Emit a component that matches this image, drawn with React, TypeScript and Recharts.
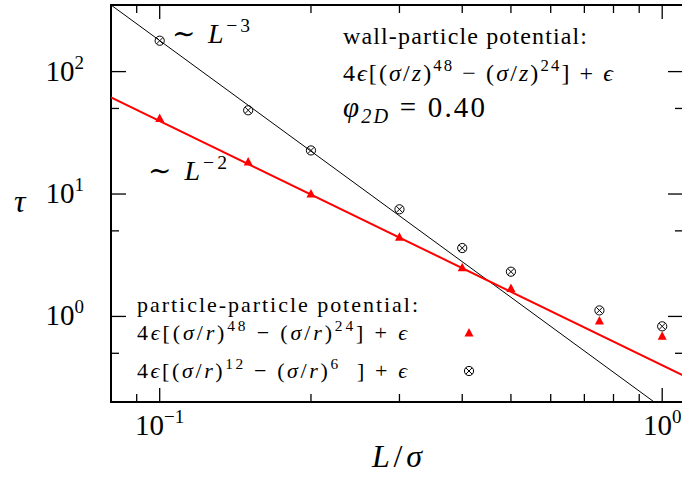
import { ScatterChart, Scatter, XAxis, YAxis, ReferenceArea } from "recharts";

// plot frame (px) inside the 682x485 picture
const CHART_W = 684;
const CHART_H = 485;
const TOP = 5;
const RIGHT = 683;

const FONT = "'Liberation Serif', 'DejaVu Serif', serif";

// measured relaxation time tau vs. L/sigma
const sizes = [0.1, 0.15, 0.2, 0.3, 0.4, 0.5, 0.75, 1.0];
const tauLJ48 = [41.4, 18.3, 10.0, 4.43, 2.5, 1.69, 0.916, 0.69];
const tauLJ12 = [178.8, 48.3, 22.7, 7.5, 3.62, 2.32, 1.12, 0.83];

// power-law guides ~L^-3 and ~L^-2 (end points)
const fit3x = [0.08, 0.964];
const fit3y = [350, 0.2];
const fit2x = [0.08, 1.1];
const fit2y = [61.5, 0.33];

const xMajor = [0.1, 1];
const xMinor = [0.09, 0.2, 0.3, 0.4, 0.5, 0.6, 0.7, 0.8, 0.9];
const yMajor = [1, 10, 100];
const yMinor = [0.5, 5, 50];
const xExp: Record<number, string> = { 0.1: "\u22121", 1: "0" };
const yExp: Record<number, string> = { 1: "0", 10: "1", 100: "2" };

const zip = (xs: number[], ys: number[]) => xs.map((x, i) => ({ x, y: ys[i] }));

function XTick(props: any) {
  const { x, y, payload } = props;
  const v = payload.value;
  const major = xMajor.includes(v);
  const len = major ? 14 : 8;
  return (
    <g>
      <line x1={x} x2={x} y1={y} y2={y - len} stroke="#000" strokeWidth={1.3} />
      <line x1={x} x2={x} y1={TOP} y2={TOP + len} stroke="#000" strokeWidth={1.3} />
      {major && (
        <text x={x} y={y + 33} textAnchor="middle" fontFamily={FONT} fontSize={29} fill="#000">
          10<tspan dy={-12} fontSize={19}>{xExp[v]}</tspan>
        </text>
      )}
    </g>
  );
}

function YTick(props: any) {
  const { x, y, payload } = props;
  const v = payload.value;
  const major = yMajor.includes(v);
  const len = major ? 15 : 8;
  return (
    <g>
      <line x1={x} x2={x + len} y1={y} y2={y} stroke="#000" strokeWidth={1.3} />
      <line x1={RIGHT - len} x2={RIGHT} y1={y} y2={y} stroke="#000" strokeWidth={1.3} />
      {major && (
        <text x={x - 27} y={y + 9} textAnchor="end" fontFamily={FONT} fontSize={29} fill="#000">
          10<tspan dy={-12} fontSize={19}>{yExp[v]}</tspan>
        </text>
      )}
    </g>
  );
}

const Triangle = (p: any) => (
  <path d={`M${p.cx},${p.cy - 5} L${p.cx + 4.5},${p.cy + 3.5} L${p.cx - 4.5},${p.cy + 3.5} Z`} fill="#ff0000" />
);

const OTimes = (p: any) => {
  const { cx, cy } = p;
  const d = 3.2;
  return (
    <g stroke="#000" strokeWidth={1} fill="none">
      <circle cx={cx} cy={cy} r={4.6} />
      <line x1={cx - d} y1={cy - d} x2={cx + d} y2={cy + d} />
      <line x1={cx - d} y1={cy + d} x2={cx + d} y2={cy - d} />
    </g>
  );
};

const NoDot = () => <g />;

// math-ish text: segments of [text, style] where style: i italic, ^ superscript, _ subscript
type Seg = [string, string?];
function MathText({ x, y, size, segs, w }: { x: number; y: number; size: number; segs: Seg[]; w?: number }) {
  let level = 0;
  const out = segs.map(([t, s = ""], k) => {
    const target = s.includes("^") ? -0.4 * size : s.includes("_") ? 0.22 * size : 0;
    const dy = target - level;
    level = target;
    return (
      <tspan
        key={k}
        dy={dy}
        fontStyle={s.includes("i") ? "italic" : "normal"}
        fontSize={s.includes("^") || s.includes("_") ? size * 0.7 : size}
      >
        {t}
      </tspan>
    );
  });
  return (
    <text
      x={x}
      y={y}
      fontFamily={FONT}
      fontSize={size}
      fill="#000"
      style={{ whiteSpace: "pre" }}
      textLength={w}
      lengthAdjust={w ? "spacing" : undefined}
    >
      {out}
    </text>
  );
}

const EPS = "\u03f5";
const SIG = "\u03c3";

export default function App() {
  return (
    <div style={{ position: "absolute", left: 0, top: 0, width: 682, height: 485, overflow: "hidden", background: "#fff" }}>
      <ScatterChart width={CHART_W} height={CHART_H} margin={{ top: TOP, right: CHART_W - RIGHT, bottom: 0, left: 0 }}>
        <XAxis
          type="number"
          dataKey="x"
          scale="log"
          domain={[0.08, 1.1]}
          allowDataOverflow
          ticks={[...xMinor, ...xMajor].sort((a, b) => a - b)}
          interval={0}
          tick={<XTick />}
          tickLine={false}
          axisLine={false}
          tickSize={0}
          tickMargin={0}
          height={83}
        />
        <YAxis
          type="number"
          dataKey="y"
          scale="log"
          domain={[0.2, 350]}
          allowDataOverflow
          ticks={[...yMinor, ...yMajor].sort((a, b) => a - b)}
          interval={0}
          tick={<YTick />}
          tickLine={false}
          axisLine={false}
          tickSize={0}
          tickMargin={0}
          width={111}
        />
        <ReferenceArea x1={0.08} x2={1.1} y1={0.2} y2={350} fill="none" stroke="#000" strokeWidth={2} />
        <Scatter data={zip(fit3x, fit3y)} line={{ stroke: "#000", strokeWidth: 1 }} shape={NoDot} isAnimationActive={false} />
        <Scatter data={zip(fit2x, fit2y)} line={{ stroke: "#ff0000", strokeWidth: 2 }} shape={NoDot} isAnimationActive={false} />
        <Scatter data={zip(sizes, tauLJ48)} shape={Triangle} isAnimationActive={false} />
        <Scatter data={zip(sizes, tauLJ12)} shape={OTimes} isAnimationActive={false} />
      </ScatterChart>

      <svg width={682} height={485} style={{ position: "absolute", left: 0, top: 0, pointerEvents: "none" }}>
        {/* axis titles */}
        <MathText x={372} y={467} size={32} w={50} segs={[["L", "i"], ["/"], [SIG, "i"]]} />
        <MathText x={14} y={212} size={32} segs={[["\u03c4", "i"]]} />

        {/* scaling labels */}
        <MathText x={172} y={43} size={28} w={78} segs={[["\u223c "], ["L", "i"], ["\u22123", "^"]]} />
        <MathText x={148} y={180} size={28} w={79} segs={[["\u223c "], ["L", "i"], ["\u22122", "^"]]} />

        {/* wall potential */}
        <MathText x={343} y={44} size={24} w={244} segs={[["wall-particle potential:"]]} />
        <MathText
          x={343}
          y={81}
          size={24}
          w={270}
          segs={[["4"], [EPS, "i"], ["[("], [SIG, "i"], ["/"], ["z", "i"], [")"], ["48", "^"], [" \u2212 ("], [SIG, "i"], ["/"], ["z", "i"], [")"], ["24", "^"], ["] + "], [EPS, "i"]]}
        />
        <MathText x={343} y={117} size={29} w={142} segs={[["\u03c6", "i"], ["2D", "_i"], [" = 0.40"]]} />

        {/* particle potential legend */}
        <MathText x={137} y={312} size={22} w={281} segs={[["particle-particle potential:"]]} />
        <MathText
          x={137}
          y={340}
          size={22}
          w={270}
          segs={[["4"], [EPS, "i"], ["[("], [SIG, "i"], ["/"], ["r", "i"], [")"], ["48", "^"], [" \u2212 ("], [SIG, "i"], ["/"], ["r", "i"], [")"], ["24", "^"], ["] + "], [EPS, "i"]]}
        />
        <MathText
          x={137}
          y={378}
          size={22}
          w={270}
          segs={[["4"], [EPS, "i"], ["[("], [SIG, "i"], ["/"], ["r", "i"], [")"], ["12", "^"], [" \u2212 ("], [SIG, "i"], ["/"], ["r", "i"], [")"], ["6", "^"], ["  ] + "], [EPS, "i"]]}
        />
        <Triangle cx={469} cy={333} />
        <OTimes cx={469} cy={371} />
      </svg>
    </div>
  );
}
